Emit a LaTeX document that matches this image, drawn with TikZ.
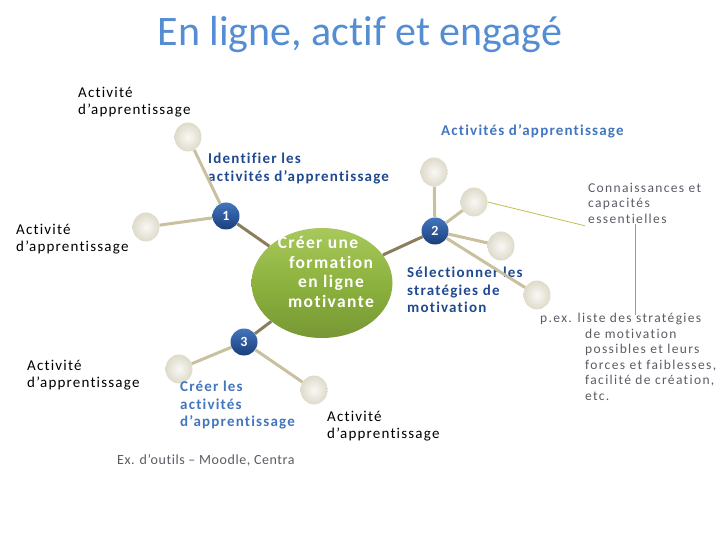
\documentclass[tikz,border=0pt]{standalone}
\usepackage{fontspec}
\setmainfont{Carlito}[Ligatures=NoCommon]
\newfontfamily\wide[LetterSpace=8, Ligatures=NoCommon]{Carlito}
\newfontfamily\wider[LetterSpace=10, Ligatures=NoCommon]{Carlito}
\newfontfamily\narrow[LetterSpace=4, Ligatures=NoCommon]{Carlito}
\usetikzlibrary{positioning,shapes.geometric}
\definecolor{titleblue}{RGB}{84,141,212}
\definecolor{darkblue}{RGB}{31,73,145}
\definecolor{midblue}{RGB}{66,118,190}
\definecolor{stem}{RGB}{200,192,158}
\definecolor{darkstem}{RGB}{140,126,92}
\definecolor{beige}{RGB}{222,219,202}
\definecolor{leaf}{RGB}{140,178,62}
\definecolor{notegray}{RGB}{90,92,100}
\definecolor{olive}{RGB}{190,190,80}

\begin{document}
\begin{tikzpicture}[x=1pt, y=-1pt,
  ball/.style={ellipse, minimum width=27pt, minimum height=29pt, inner sep=0pt,
               shading=radial, inner color=white!80!beige, outer color=beige},
  num/.style={circle, minimum size=27pt, inner sep=0pt, top color=midblue,
              bottom color=darkblue!85!black, text=white, font=\bfseries\fontsize{14}{14}\selectfont},
  hub/.style={ellipse, minimum width=141pt, minimum height=110pt, inner sep=0pt,
              top color={rgb,255:red,168;green,200;blue,92}, bottom color=leaf!85!black, middle color=leaf},
  hubtxt/.style={text=white, align=center, font=\wide\bfseries\fontsize{17.5}{19.5}\selectfont},
  act/.style={anchor=north west, inner sep=0pt, align=left, text=black,
              font=\wide\fontsize{15}{17}\selectfont},
  task/.style={anchor=north west, inner sep=0pt, align=left, text=darkblue,
               font=\wide\bfseries\fontsize{15}{17.5}\selectfont},
  note/.style={anchor=north west, inner sep=0pt, align=left, text=notegray,
               font=\wider\fontsize{13.5}{15.5}\selectfont},
  stemline/.style={draw=stem, line width=3pt},
  hubline/.style={draw=darkstem, line width=3pt},
]
  \useasboundingbox (0,0) rectangle (720,540);

  \node[text=titleblue, font=\fontsize{42}{46}\selectfont] (title) at (360,35) {En ligne, actif et engagé};

  % centre and the three steps
  \node[hub, label={[hubtxt, xshift=9pt, yshift=11pt]center:Créer une\hspace*{26pt}\\formation\\en ligne\\motivante}] (hub) at (322,283) {};
  \node[num] (n1) at (226,216) {1};
  \node[num] (n2) at (435,231) {2};
  \node[num] (n3) at (244,342) {3};

  % leaves
  \node[ball] (a1) at (188,137) {};
  \node[ball] (a2) at (146,227) {};
  \node[ball] (b1) at (434,172) {};
  \node[ball] (b2) at (474,202) {};
  \node[ball] (b3) at (501,246) {};
  \node[ball] (b4) at (537,295) {};
  \node[ball] (c1) at (179,369) {};
  \node[ball] (c2) at (314,390) {};

  % labels
  \node[act] (la1) at (78,87) {Activité\\d’apprentissage};
  \node[task, text=midblue] (la2) at (441,124) {Activités d’apprentissage};
  \node[task] (id) at (208,153) {Identifier les\\activités d’apprentissage};
  \node[act] (la3) at (16,224) {Activité\\d’apprentissage};
  \node[task] (sel) at (407,267) {Sélectionner les\\stratégies de\\motivation};
  \node[act] (la4) at (27,360) {Activité\\d’apprentissage};
  \node[task, text=midblue] (cre) at (180,381) {Créer les\\activités\\d’apprentissage};
  \node[act] (la5) at (327,411) {Activité\\d’apprentissage};
  \node[note, font=\narrow\fontsize{14}{16}\selectfont] (ex) at (117,454) {Ex. d’outils – Moodle, Centra};
  \node[note] (cnote) at (588,183) {Connaissances et\\capacités\\essentielles};
  \node[note] (pnote) at (540,313) {p.ex. liste des stratégies\\
    \hspace*{45pt}de motivation\\
    \hspace*{45pt}possibles et leurs\\
    \hspace*{45pt}forces et faiblesses,\\
    \hspace*{45pt}facilité de création,\\
    \hspace*{45pt}etc.};

  % connectors
  \draw[hubline] (n1) -- (hub);
  \draw[hubline] (n2) -- (hub);
  \draw[hubline] (n3) -- (hub);
  \draw[stemline] (a1) -- (n1);
  \draw[stemline] (a2) -- (n1);
  \draw[stemline] (b1) -- (n2);
  \draw[stemline] (b2) -- (n2);
  \draw[stemline] (b3) -- (n2);
  \draw[stemline] (b4) -- (n2);
  \draw[stemline] (c1) -- (n3);
  \draw[stemline] (c2) -- (n3);
  \draw[olive, line width=0.8pt] (b2.east) -- ([xshift=-3pt, yshift=-2pt]cnote.south west);
  \draw[gray!80, line width=0.8pt] ([xshift=-9.5pt]cnote.south) -- ([xshift=-9.5pt, yshift=-2pt]cnote.south |- pnote.north);
\end{tikzpicture}
\end{document}
